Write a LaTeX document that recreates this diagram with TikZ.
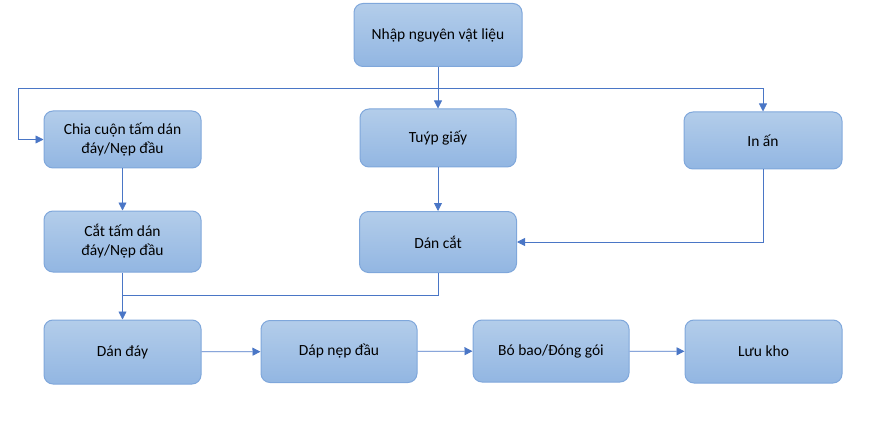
\documentclass[tikz,border=0pt]{standalone}
\usepackage{fontspec}
\setmainfont{Carlito}
\usetikzlibrary{arrows.meta}
\definecolor{boxtop}{HTML}{B3CDEA}
\definecolor{boxbot}{HTML}{92B6E2}
\definecolor{boxline}{HTML}{7FA7DB}
\definecolor{flowline}{HTML}{4A76C6}
\begin{document}
\begin{tikzpicture}
[x=1pt,y=-1pt,
  stepbox/.style={shape=rectangle,rounded corners=9pt,draw=boxline,line width=1pt,
    top color=boxtop,bottom color=boxbot,minimum width=157pt,minimum height=60pt,
    inner sep=0pt,align=center,font=\fontsize{15.5}{19}\selectfont},%
  arrowdecorate/.style={-{Triangle[width=8pt,length=8pt]},draw=flowline,line width=0.8pt},%
  linedecorate/.style={draw=flowline,line width=0.8pt}]
\useasboundingbox (0,0) rectangle (872,422);
% nodes or vertices
\node (nhap) at (438,35) [stepbox,minimum width=168pt,minimum height=63pt] {Nhập nguyên vật liệu};
\node (chia) at (122.5,139.5) [stepbox,minimum height=57pt] {Chia cuộn tấm dán\\đáy/Nẹp đầu};
\node (tuyp) at (438,138) [stepbox,minimum width=156pt,minimum height=58pt] {Tuýp giấy};
\node (inan) at (763,140.5) [stepbox,minimum width=158pt,minimum height=57pt] {In ấn};
\node (cat) at (122.5,241.5) [stepbox,minimum height=61pt] {Cắt tấm dán\\đáy/Nẹp đầu};
\node (dancat) at (438,242) [stepbox,minimum height=61pt] {Dán cắt};
\node (danday) at (122.5,352) [stepbox,minimum height=64pt] {Dán đáy};
\node (dap) at (339,351.5) [stepbox,minimum width=156pt,minimum height=62pt] {Dáp nẹp đầu};
\node (bobao) at (551,351) [stepbox,minimum width=156pt,minimum height=62pt] {Bó bao/Đóng gói};
\node (luukho) at (763.5,351.5) [stepbox,minimum height=63pt] {Lưu kho};
% corners of the lines
\coordinate (split) at (438,88);
\coordinate (leftend) at (18,88);
\coordinate (join) at (122.5,295);
% edges or lines
\path
(nhap) edge[arrowdecorate] (tuyp)
(chia) edge[arrowdecorate] (cat)
(tuyp) edge[arrowdecorate] (dancat)
(cat) edge[arrowdecorate] (danday)
(danday) edge[arrowdecorate] (dap)
(dap) edge[arrowdecorate] (bobao)
(bobao) edge[arrowdecorate] (luukho);
\draw[arrowdecorate] (split) -- (leftend) |- (chia.west);
\draw[arrowdecorate] (split) -| (inan.north);
\draw[arrowdecorate] (inan.south) |- (dancat.east);
\draw[linedecorate] (dancat.south) |- (join);
\end{tikzpicture}
\end{document}
